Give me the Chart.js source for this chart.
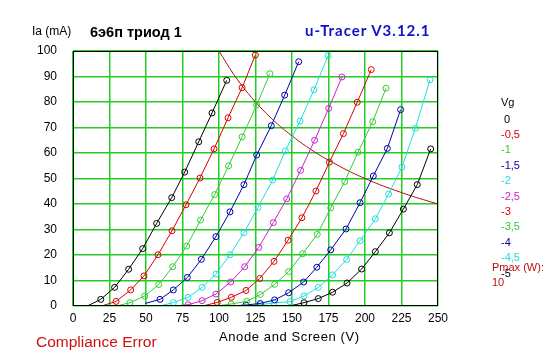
<!DOCTYPE html>
<html>
<head>
<meta charset="utf-8">
<script src="https://cdn.jsdelivr.net/npm/chart.js@4"></script>
<style>
  html, body { margin: 0; padding: 0; background: #fff; }
  #wrap { position: relative; width: 547px; height: 357px; overflow: hidden; }
  canvas { position: absolute; left: 0; top: 0; }
  .t { position: absolute; font-family: "Liberation Sans", Arial, sans-serif; font-size: 12px; line-height: 14px; white-space: nowrap; }
  .lg { font-size: 11px; line-height: 13px; }
</style>
</head>
<body>
<div id="wrap">
  <canvas id="c" width="547" height="357"></canvas>
  <div class="t" style="left:32px;top:24px;">Ia (mA)</div>
  <div class="t" style="left:90px;top:24px;font-weight:bold;font-size:14.5px;line-height:16px;">6э6п триод 1</div>
  <div class="t" style="left:305px;top:21px;font-weight:bold;font-size:15px;line-height:18px;letter-spacing:1px;color:#1010c8;font-family:Lato, sans-serif;">u-Tracer V3.12.1</div>
  <div class="t" style="left:219px;top:330px;font-size:13px;letter-spacing:0.6px;">Anode and Screen (V)</div>
  <div class="t" style="left:36px;top:332px;font-size:15.5px;line-height:20px;color:#d01010;">Compliance Error</div>
  <div id="legend"></div>
</div>
<script>
// ---- data (anode voltage V, anode current mA) ----
const gridVoltages = ["0", "-0,5", "-1", "-1,5", "-2", "-2,5", "-3", "-3,5", "-4", "-4,5", "-5"];
const curveColors = ["#000000", "#dd0000", "#33cc33", "#0000aa", "#22dddd", "#cc22cc", "#dd0000", "#33cc33", "#0000aa", "#22dddd", "#000000"];

const va_0   = [9.8, 19, 28.5, 38.1, 47.7, 57.3, 67.6, 76.5, 86.1, 95.2, 105.3];
const ia_0   = [0, 2.6, 7.3, 14.4, 22.5, 32.4, 42.5, 52.5, 64.4, 75.7, 88.5];
const va_05  = [19.6, 29.5, 39.5, 48.6, 58.2, 67.8, 77.4, 87, 96.6, 106.2, 115.8, 124.9];
const ia_05  = [0, 1.8, 6.3, 11.8, 20.1, 29.5, 39.7, 50.2, 61.6, 73.8, 85.6, 98.4];
const va_1   = [29.9, 39, 49.1, 58.7, 68.3, 77.9, 87.4, 97, 106.6, 115.8, 125.8, 134.9];
const ia_1   = [0, 1.3, 3.9, 8.4, 15.4, 23.5, 33.7, 43.7, 55, 66.3, 78.8, 91.1];
const va_15  = [49.5, 59.6, 68.7, 78.3, 87.9, 97.9, 107.5, 117.1, 125.8, 135.8, 145, 154.6];
const ia_15  = [1, 2.6, 6.3, 11.2, 18.3, 27.2, 36.9, 47.6, 59.2, 70.7, 82.7, 95.8];
const va_2   = [59.1, 68.7, 78.8, 88.4, 97.9, 107.5, 117.1, 126.7, 136.8, 145.4, 155.5, 165.1, 174.7];
const ia_2   = [0, 1.3, 3.4, 7.3, 12.5, 20.1, 28.7, 38.7, 49.4, 60.8, 72.5, 84.8, 98.2];
const va_25  = [69.9, 78.8, 88.4, 97.9, 108, 117.6, 127.2, 137.2, 146.4, 155.9, 165.5, 175.1, 184.2];
const ia_25  = [0, 0.5, 2.1, 4.7, 9.4, 15.4, 23, 32.7, 42, 53.2, 65, 77.5, 89.8];
const va_3   = [88.8, 98.8, 108.4, 118.5, 127.9, 137.7, 147.3, 156.8, 166.4, 175.6, 185.2, 194.7, 204.3];
const ia_3   = [0, 1.4, 3.4, 6.1, 10.8, 17.5, 25.8, 34.6, 45.1, 56.4, 67.6, 79.9, 92.7];
const va_35  = [98.5, 108.4, 119, 128.3, 138.1, 147.7, 157.3, 167.3, 176.5, 186.1, 195.2, 205.3, 214.4];
const ia_35  = [0, 0.8, 1.8, 4.5, 8.5, 13.5, 20.5, 28.1, 38.5, 48.8, 60.3, 72.3, 85.4];
const va_4   = [109, 118.5, 128.3, 138.1, 147.7, 158, 167, 176.5, 187, 196.6, 205.7, 215.3, 224.4];
const ia_4   = [0, 0.4, 1.0, 2.4, 5.2, 9.4, 15.2, 22, 30.2, 40.5, 51, 61.8, 77];
const va_45  = [118, 128, 137.7, 148.6, 158.2, 168, 177.8, 187.4, 196.6, 207.1, 216.2, 225.3, 234.5, 244.5];
const ia_45  = [0, 0.5, 1.2, 1.7, 3.9, 7.3, 12.2, 18.2, 25.6, 34.2, 43.9, 54.5, 69.7, 88.7];
const va_5   = [148.2, 158.2, 168, 177.8, 187.7, 197.7, 207.1, 216.7, 226.3, 235.8, 245];
const ia_5   = [0, 1.3, 2.9, 5.4, 9, 14.5, 21.3, 28.7, 38, 47.6, 61.6];

const pmaxLabel = "10";
const va_pmax = [100, 110, 120, 130, 140, 150, 160, 170, 180, 190, 200, 210, 220, 230, 240, 250];
const ia_pmax = [100, 90.9, 83.3, 76.9, 71.4, 66.7, 62.5, 58.8, 55.6, 52.6, 50, 47.6, 45.5, 43.5, 41.7, 40];

const xTicksMax = 250, xStep = 25, yTicksMax = 100, yStep = 10;

const curvesV = [va_0, va_05, va_1, va_15, va_2, va_25, va_3, va_35, va_4, va_45, va_5];
const curvesI = [ia_0, ia_05, ia_1, ia_15, ia_2, ia_25, ia_3, ia_35, ia_4, ia_45, ia_5];

const zip = (xs, ys) => xs.map((x, i) => ({ x: x, y: ys[i] }));

const datasets = curvesV.map((vs, k) => ({
  label: gridVoltages[k],
  data: zip(vs, curvesI[k]),
  borderColor: curveColors[k],
  backgroundColor: curveColors[k],
  pointBorderColor: curveColors[k],
  pointBackgroundColor: 'rgba(0,0,0,0)',
  borderWidth: 1,
  pointRadius: ctx => (ctx.dataIndex === 0 ? 0 : 3),
  pointBorderWidth: 1,
  showLine: true,
  tension: 0
}));
datasets.push({
  label: 'Pmax',
  data: zip(va_pmax, ia_pmax),
  borderColor: '#b01010',
  borderWidth: 1,
  pointRadius: 0,
  showLine: true,
  tension: 0.3
});

// legend as real text
const legend = document.getElementById('legend');
function addText(txt, left, top, color) {
  const d = document.createElement('div');
  d.className = 't lg';
  d.textContent = txt;
  d.style.left = left + 'px';
  d.style.top = top + 'px';
  d.style.color = color;
  legend.appendChild(d);
}
addText('Vg', 501, 96, '#000');
gridVoltages.forEach((g, k) => {
  addText(g, g === '0' ? 504 : 501, 112.5 + k * 15.4, curveColors[k]);
});
addText('Pmax (W):', 492, 261, '#c01010');
addText(pmaxLabel, 492, 276, '#c01010');

const boxPlugin = {
  id: 'box',
  afterDatasetsDraw(chart) {
    const a = chart.chartArea, c = chart.ctx;
    c.save();
    c.strokeStyle = '#000';
    c.lineWidth = 1;
    c.strokeRect(a.left + 0.5, a.top + 0.5, a.right - a.left - 1, a.bottom - a.top - 1);
    c.restore();
  }
};

new Chart(document.getElementById('c'), {
  type: 'scatter',
  data: { datasets },
  options: {
    responsive: false,
    animation: false,
    devicePixelRatio: 1,
    layout: { padding: { left: 0, top: 51, right: 109, bottom: 0 } },
    plugins: { legend: { display: false }, tooltip: { enabled: false } },
    scales: {
      x: {
        type: 'linear', min: 0, max: xTicksMax,
        ticks: { stepSize: xStep, color: '#000', padding: 5, maxRotation: 0,
                 font: { family: 'Liberation Sans', size: 12 } },
        grid: { color: '#22cc22', lineWidth: 1.5, drawTicks: false },
        border: { display: false },
        afterFit: s => { s.height = 51; }
      },
      y: {
        type: 'linear', min: 0, max: yTicksMax,
        ticks: { stepSize: yStep, color: '#000', padding: 16,
                 font: { family: 'Liberation Sans', size: 12 } },
        grid: { color: '#22cc22', lineWidth: 1.5, drawTicks: false },
        border: { display: false },
        afterFit: s => { s.width = 73; }
      }
    }
  },
  plugins: [boxPlugin]
});
</script>
</body>
</html>
